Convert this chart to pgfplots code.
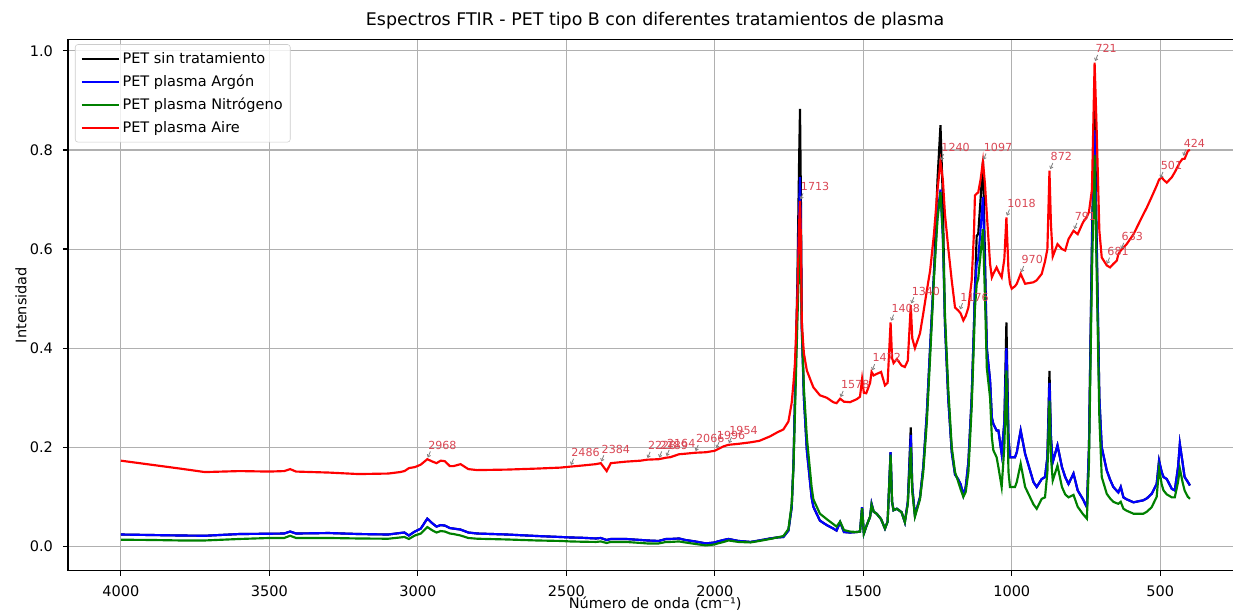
\documentclass[border=0pt]{standalone}
\usepackage{pgfplots}
\pgfplotsset{compat=1.18}
\usepackage{pgfplotstable}
\usepackage{fontspec}
\setmainfont{DejaVu Sans}
\usetikzlibrary{arrows.meta}
\definecolor{mplgreen}{rgb}{0,0.5,0}
\definecolor{anncolor}{rgb}{0.85,0.28,0.33}
\definecolor{gridgray}{rgb}{0.69,0.69,0.69}

\pgfplotstableread{
w k b g r
4000 0.024 0.024 0.0135 0.173
3900 0.023 0.023 0.013 0.165
3800 0.022 0.022 0.012 0.157
3717 0.0215 0.0215 0.012 0.150
3600 0.025 0.025 0.015 0.152
3500 0.0256 0.0256 0.017 0.151
3450 0.026 0.026 0.017 0.152
3430 0.030 0.030 0.0215 0.156
3410 0.026 0.026 0.017 0.151
3300 0.027 0.027 0.017 0.149
3200 0.025 0.025 0.016 0.146
3100 0.024 0.024 0.0155 0.147
3060 0.027 0.027 0.018 0.150
3045 0.028 0.028 0.019 0.152
3030 0.022 0.022 0.015 0.158
3010 0.030 0.030 0.022 0.160
2990 0.036 0.036 0.026 0.165
2968 0.056 0.056 0.039 0.176
2950 0.046 0.046 0.032 0.171
2937 0.040 0.040 0.028 0.168
2923 0.043 0.043 0.031 0.173
2909 0.042 0.042 0.030 0.172
2892 0.037 0.037 0.026 0.162
2880 0.036 0.036 0.025 0.162
2856 0.034 0.034 0.022 0.166
2830 0.028 0.028 0.017 0.156
2800 0.026 0.026 0.0155 0.154
2700 0.024 0.024 0.014 0.155
2600 0.021 0.021 0.012 0.157
2520 0.019 0.019 0.011 0.159
2486 0.018 0.018 0.010 0.161
2450 0.0175 0.0175 0.0095 0.163
2400 0.016 0.016 0.009 0.166
2384 0.017 0.017 0.010 0.168
2364 0.013 0.013 0.007 0.152
2350 0.015 0.015 0.009 0.168
2300 0.015 0.015 0.009 0.171
2250 0.013 0.013 0.007 0.173
2228 0.012 0.012 0.006 0.175
2189 0.011 0.011 0.006 0.176
2164 0.015 0.015 0.009 0.179
2150 0.015 0.015 0.009 0.180
2120 0.016 0.016 0.010 0.186
2100 0.013 0.013 0.008 0.187
2066 0.010 0.010 0.005 0.189
2030 0.006 0.006 0.002 0.190
2000 0.008 0.008 0.004 0.193
1990 0.010 0.010 0.006 0.196
1970 0.013 0.013 0.009 0.202
1954 0.015 0.015 0.012 0.205
1920 0.011 0.011 0.009 0.207
1880 0.009 0.009 0.008 0.210
1850 0.012 0.012 0.011 0.213
1814 0.016 0.016 0.015 0.222
1790 0.018 0.018 0.018 0.230
1769 0.019 0.019 0.021 0.236
1752 0.032 0.032 0.035 0.252
1741 0.079 0.079 0.085 0.29
1735 0.167 0.167 0.16 0.33
1730 0.30 0.30 0.27 0.37
1722 0.53 0.50 0.45 0.50
1716 0.78 0.68 0.58 0.65
1713 0.883 0.745 0.62 0.697
1710 0.70 0.62 0.55 0.62
1707 0.46 0.435 0.44 0.45
1700 0.301 0.301 0.32 0.39
1690 0.194 0.194 0.22 0.355
1674 0.099 0.099 0.12 0.33
1668 0.08 0.08 0.095 0.321
1646 0.052 0.052 0.066 0.305
1623 0.043 0.043 0.055 0.300
1601 0.036 0.036 0.045 0.291
1590 0.032 0.032 0.04 0.289
1578 0.049 0.049 0.05 0.298
1565 0.029 0.029 0.033 0.292
1545 0.028 0.028 0.03 0.291
1522 0.029 0.029 0.029 0.297
1511 0.03 0.03 0.03 0.302
1504 0.079 0.079 0.077 0.338
1498 0.026 0.026 0.026 0.310
1490 0.04 0.04 0.04 0.309
1477 0.06 0.06 0.06 0.33
1472 0.086 0.086 0.084 0.352
1465 0.07 0.07 0.07 0.345
1455 0.066 0.066 0.066 0.348
1440 0.055 0.055 0.055 0.352
1427 0.036 0.036 0.036 0.325
1418 0.05 0.05 0.05 0.33
1408 0.19 0.19 0.185 0.452
1403 0.09 0.09 0.09 0.38
1398 0.073 0.073 0.073 0.37
1387 0.076 0.076 0.076 0.378
1371 0.069 0.069 0.069 0.365
1360 0.049 0.049 0.049 0.362
1350 0.09 0.09 0.085 0.375
1340 0.24 0.225 0.20 0.487
1335 0.12 0.12 0.11 0.42
1326 0.0625 0.0625 0.06 0.40
1309 0.099 0.099 0.095 0.43
1298 0.160 0.160 0.15 0.47
1286 0.268 0.268 0.25 0.516
1275 0.40 0.40 0.38 0.556
1262 0.55 0.55 0.54 0.63
1250 0.74 0.67 0.66 0.72
1240 0.85 0.72 0.715 0.776
1232 0.70 0.62 0.63 0.74
1225 0.45 0.45 0.47 0.671
1214 0.30 0.30 0.32 0.603
1202 0.19 0.19 0.20 0.536
1191 0.145 0.145 0.15 0.482
1180 0.135 0.135 0.13 0.476
1172 0.125 0.125 0.115 0.47
1163 0.103 0.103 0.10 0.456
1155 0.12 0.12 0.11 0.465
1146 0.17 0.17 0.15 0.482
1135 0.30 0.30 0.28 0.536
1127 0.45 0.45 0.42 0.637
1124 0.52 0.52 0.48 0.708
1118 0.627 0.57 0.53 0.712
1113 0.63 0.58 0.54 0.714
1105 0.70 0.64 0.59 0.74
1097 0.777 0.705 0.64 0.777
1090 0.58 0.55 0.50 0.73
1084 0.40 0.40 0.36 0.671
1073 0.335 0.335 0.30 0.570
1067 0.26 0.26 0.22 0.543
1062 0.247 0.247 0.194 0.55
1051 0.234 0.234 0.18 0.563
1045 0.234 0.234 0.16 0.555
1034 0.187 0.187 0.12 0.543
1025 0.25 0.25 0.20 0.58
1018 0.452 0.40 0.355 0.664
1011 0.22 0.22 0.15 0.556
1006 0.180 0.180 0.12 0.53
1000 0.180 0.180 0.12 0.520
989 0.180 0.180 0.12 0.525
983 0.19 0.19 0.13 0.530
970 0.234 0.234 0.167 0.550
955 0.187 0.187 0.12 0.530
927 0.13 0.13 0.085 0.533
916 0.120 0.120 0.076 0.537
899 0.136 0.136 0.096 0.550
888 0.140 0.140 0.099 0.575
880 0.18 0.18 0.15 0.60
873 0.354 0.33 0.294 0.758
868 0.22 0.22 0.18 0.65
862 0.170 0.170 0.133 0.585
846 0.204 0.204 0.163 0.610
831 0.160 0.160 0.12 0.600
820 0.14 0.14 0.105 0.597
809 0.126 0.126 0.099 0.620
792 0.147 0.147 0.104 0.637
778 0.113 0.113 0.08 0.630
760 0.095 0.095 0.065 0.654
747 0.079 0.079 0.056 0.665
740 0.2 0.2 0.17 0.675
730 0.62 0.6 0.55 0.72
721 0.90 0.84 0.79 0.976
714 0.62 0.6 0.55 0.839
705 0.30 0.30 0.26 0.637
697 0.200 0.200 0.140 0.583
680 0.153 0.153 0.106 0.567
669 0.135 0.135 0.097 0.563
658 0.120 0.120 0.090 0.570
646 0.112 0.112 0.087 0.577
641 0.109 0.109 0.086 0.59
633 0.120 0.120 0.09 0.597
624 0.099 0.099 0.076 0.603
613 0.095 0.095 0.072 0.610
590 0.089 0.089 0.066 0.630
557 0.093 0.093 0.066 0.670
545 0.097 0.097 0.07 0.684
529 0.106 0.106 0.079 0.705
512 0.126 0.126 0.10 0.728
504 0.173 0.173 0.157 0.740
495 0.15 0.15 0.125 0.745
489 0.140 0.140 0.113 0.740
478 0.136 0.136 0.105 0.734
461 0.116 0.116 0.099 0.745
451 0.113 0.113 0.099 0.755
440 0.16 0.16 0.13 0.768
434 0.207 0.207 0.157 0.775
425 0.17 0.17 0.13 0.782
418 0.140 0.140 0.113 0.782
407 0.13 0.13 0.10 0.798
400 0.123 0.123 0.096 0.800
}\spec

\newcommand{\ann}[2]{%
  \draw[gray, line width=0.6pt, -{Straight Barb[length=1.6pt,width=2.6pt]}]
    ([xshift=2.2pt,yshift=5.6pt]axis cs:#1,#2) -- ([xshift=0.4pt,yshift=1.2pt]axis cs:#1,#2);
  \node[anchor=base west, inner sep=0pt, text=anncolor, font=\fontsize{8}{9.5}\selectfont]
    at ([xshift=0.5pt,yshift=7.2pt]axis cs:#1,#2) {#1};}

\begin{document}
\begin{tikzpicture}
\begin{axis}[
  name=ax,
  scale only axis,
  width=838.8pt, height=382.5pt,
  x dir=reverse,
  xmin=255, xmax=4178,
  ymin=-0.049, ymax=1.023,
  xtick={500,1000,...,4000},
  ytick={0,0.2,...,1.0},
  /pgf/number format/assume math mode=true,
  /pgf/number format/set thousands separator={},
  yticklabel style={/pgf/number format/fixed, /pgf/number format/fixed zerofill, /pgf/number format/precision=1, inner sep=0pt, anchor=east},
  xticklabel style={inner sep=0pt, anchor=north},
  xticklabel shift=7.3pt,
  yticklabel shift=7pt,
  ticklabel style={font=\fontsize{10.45}{12.5}\selectfont},
  tick pos=left,
  tick align=outside,
  major tick length=3.6pt,
  tick style={black, line width=0.85pt},
  axis line style={draw=none},
  grid=major,
  major grid style={gridgray, line width=0.8pt},
  title={Espectros FTIR - PET tipo B con diferentes tratamientos de plasma},
  title style={at={(0.504,1)}, anchor=base, yshift=3.9pt, inner sep=0pt, font=\fontsize{12.55}{15}\selectfont},
  xlabel={Número de onda (cm⁻¹)},
  xlabel style={at={(0.504,0)}, anchor=base, yshift=-26.9pt, inner sep=0pt, font=\fontsize{10.45}{12.5}\selectfont},
  ylabel={Intensidad},
  every axis y label/.style={at={(axis description cs:-0.0403,0.5)}, rotate=90, anchor=center, inner sep=0pt, font=\fontsize{10.45}{12.5}\selectfont},
  legend style={at={(0.006,0.991)}, anchor=north west, draw={rgb,255:red,204;green,204;blue,204},
    rounded corners=2pt, fill=white, fill opacity=0.8, text opacity=1,
    font=\fontsize{10.45}{12.5}\selectfont, row sep=3.9pt, inner xsep=4pt, inner ysep=4pt,
    nodes={inner sep=1.5pt}},
  legend cell align=left,
  legend image code/.code={\draw[#1, line width=1.55pt] (0pt,0pt) -- (21pt,0pt); \path (0pt,0pt) -- (27pt,0pt);},
]
\addplot[black, line width=1.55pt] table[x=w, y=k] {\spec};
\addlegendentry{PET sin tratamiento}
\addplot[blue, line width=1.55pt] table[x=w, y=b] {\spec};
\addlegendentry{PET plasma Argón}
\addplot[mplgreen, line width=1.55pt] table[x=w, y=g] {\spec};
\addlegendentry{PET plasma Nitrógeno}
\addplot[red, line width=1.55pt] table[x=w, y=r] {\spec};
\addlegendentry{PET plasma Aire}

\ann{2968}{0.176}
\ann{2486}{0.161}
\ann{2384}{0.168}
\ann{2228}{0.175}
\ann{2189}{0.176}
\ann{2164}{0.179}
\ann{2066}{0.189}
\ann{1996}{0.195}
\ann{1954}{0.205}
\ann{1713}{0.697}
\ann{1578}{0.298}
\ann{1472}{0.352}
\ann{1408}{0.452}
\ann{1340}{0.487}
\ann{1240}{0.776}
\ann{1176}{0.475}
\ann{1097}{0.777}
\ann{1018}{0.664}
\ann{970}{0.550}
\ann{872}{0.758}
\ann{791}{0.637}
\ann{721}{0.976}
\ann{681}{0.567}
\ann{633}{0.597}
\ann{501}{0.740}
\ann{424}{0.785}
\end{axis}
\draw[black, line width=0.85pt] (ax.south east) -- (ax.south west) -- (ax.north west) -- (ax.north east);
\pgfresetboundingbox
\path[use as bounding box] ([xshift=-48.96pt,yshift=-29.7pt]ax.south west) rectangle ([yshift=28.4pt]ax.north east);
\end{tikzpicture}
\end{document}
